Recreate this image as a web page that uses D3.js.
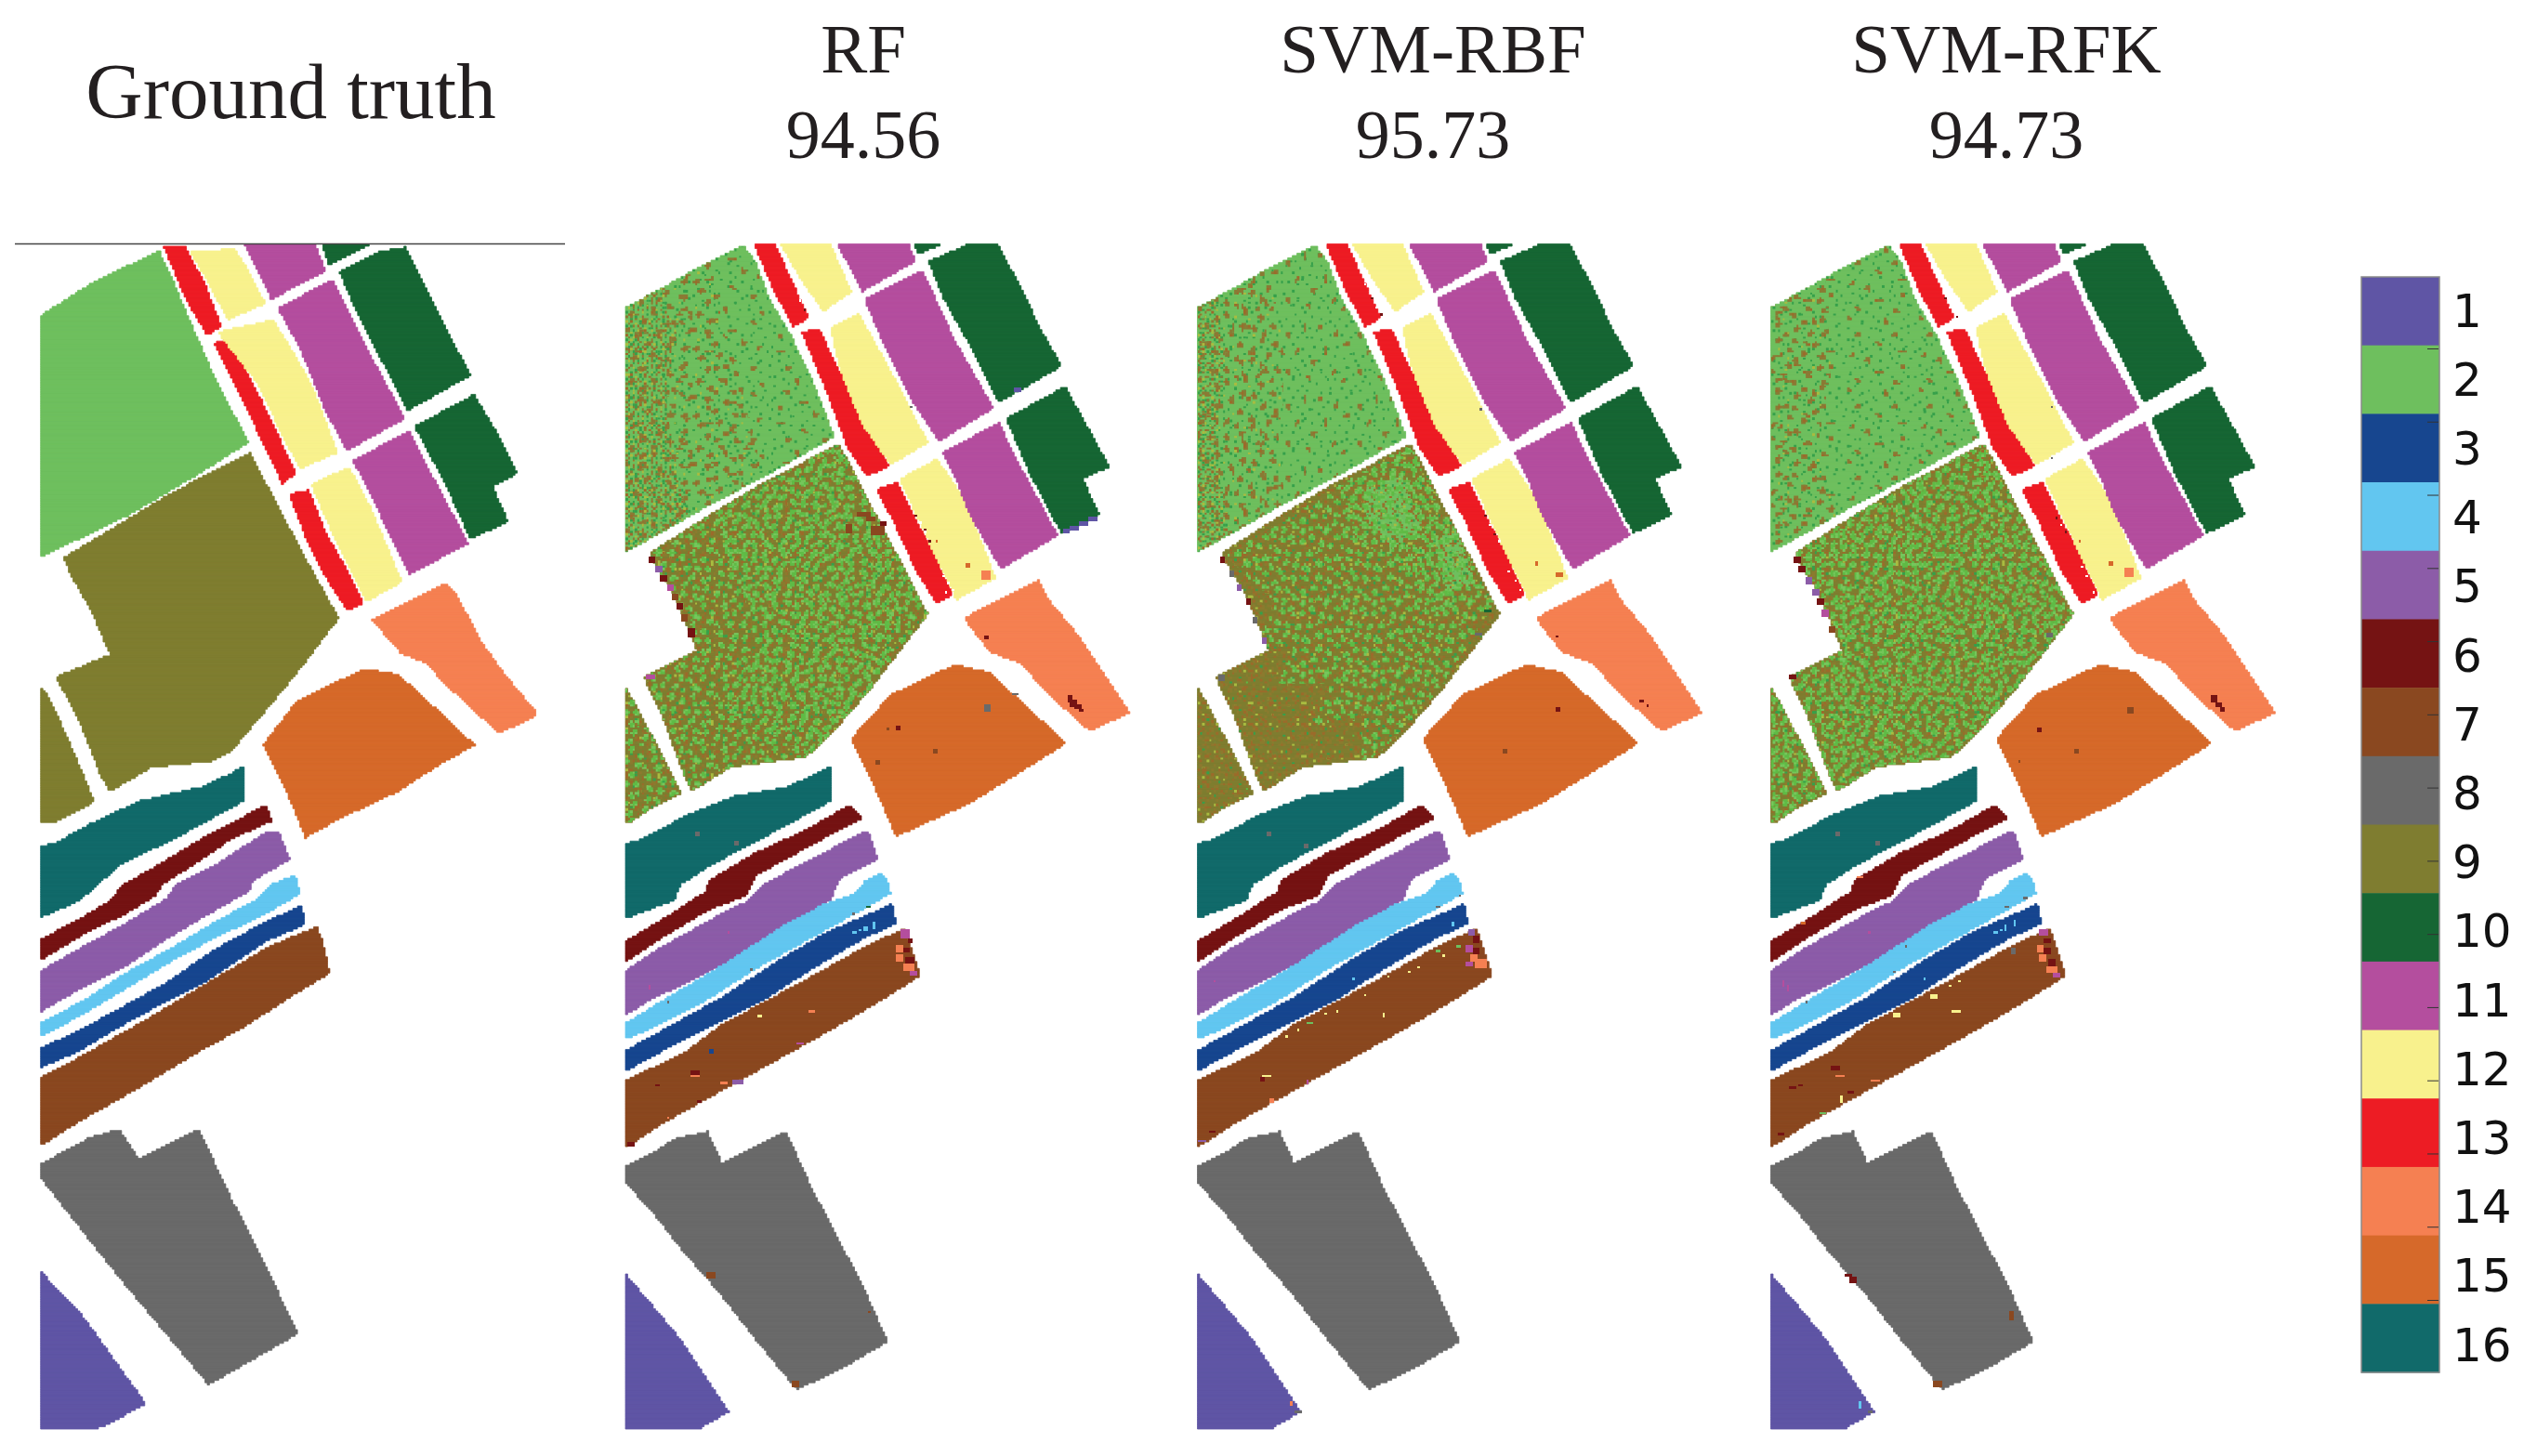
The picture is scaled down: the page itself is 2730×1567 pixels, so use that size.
<!DOCTYPE html>
<html>
<head>
<meta charset="utf-8">
<script src="https://cdn.jsdelivr.net/npm/d3@7.9.0/dist/d3.min.js"></script>
<style>
  html, body { margin: 0; background: #fff; }
  svg { display: block; }
</style>
</head>
<body>
<div id="chart"></div>
<script>
const classIds = [1, 2, 3, 4, 5, 6, 7, 8, 9, 10, 11, 12, 13, 14, 15, 16];
const classColors = ['#ffffff', '#5f55a5', '#6ebf5e', '#17468f', '#62c6f0', '#8c5ca8', '#751313', '#8a4820',
  '#6a6a6a', '#7f7d30', '#166634', '#b44e9e', '#f8f18d', '#ed1c24', '#f58052', '#d6692a', '#116a6a'];
const colorbarTicks = [1, 2, 3, 4, 5, 6, 7, 8, 9, 10, 11, 12, 13, 14];

const panelNames = ['Ground truth', 'RF', 'SVM-RBF', 'SVM-RFK'];
const panelScores = [null, '94.56', '95.73', '94.73'];

// fields as [class, polygon], polygons in image cells [col, row] of the 217 x 512 scene
const truthFields = [
  [2, [[0,31],[4.6,28],[23.5,16],[51.3,3],[56.3,13.6],[64.4,32.8],[74.3,55.4],[89.8,85.9],[67.7,99.8],[38.2,117.2],[17.7,127],[0,135.2]]],
  [13, [[53.3,1.4],[62.5,1.4],[71,17],[78.3,36],[71.8,39.4],[62.8,24]]],
  [13, [[75,42.7],[82.4,40.2],[87.4,52],[95.6,67.6],[110.3,99],[104.6,103.8],[95.6,85],[84,60.6]]],
  [13, [[107.4,108],[116,106.3],[123.4,125],[132.5,140.8],[139.5,155.2],[132.5,158.5],[123.4,144.3],[115.2,128.6]]],
  [12, [[64.4,3],[84,2.3],[88.1,8.4],[97.2,25.8],[80.8,32.8],[72.6,17]]],
  [12, [[76.4,38],[100.5,32.8],[110.3,48.4],[118.5,64],[128.4,90.2],[112,97.2],[103.8,81.5],[94,60.6]]],
  [12, [[116.9,104],[133.3,96.3],[142.3,113],[156.2,146],[140.7,154.7],[128.4,130.3]]],
  [11, [[88.2,0],[118.5,0],[123.4,11.8],[99.7,24],[94,11.8]]],
  [11, [[102.6,27.9],[126,15.3],[139.9,43.2],[157.5,75.4],[132.5,89.4],[123.4,72.8],[112,44.9]]],
  [11, [[134.6,93.7],[159.5,80.7],[167.7,97.2],[184.9,129.4],[159.5,142.9],[149.7,123.3],[139.9,102.4]]],
  [10, [[121.8,0],[143.1,0],[124.3,9.2]]],
  [10, [[128.9,11.8],[147.2,3.1],[157.9,1.4],[164.4,15.3],[173.4,32.8],[185.8,56.8],[158.7,72],[146.4,48.4],[135.7,27.5]]],
  [10, [[161.6,78.9],[187.4,65],[197.2,81.5],[206.2,99],[195.5,105],[202.1,119.9],[185.8,127.7],[174.3,102.4]]],
  [9, [[10,135.5],[56.2,107.7],[90.7,90.2],[100.5,109.4],[115.3,137.3],[128.9,161.7],[110.3,186],[94,205.5],[82.4,219.2],[74.3,223.5],[48,226.2],[30,236.7],[25.9,229.6],[17.7,208.7],[6.7,187],[30,177.4],[21.8,158.2],[13.6,144.2]]],
  [9, [[0,192],[3,194.7],[12,214],[23.4,241],[6.2,250],[0,250]]],
  [14, [[143.1,162.5],[175,146.3],[180,152],[190.7,172.2],[202.1,187.8],[214.9,203],[210.4,206],[198,211.3],[187.4,201.7],[176,191.2],[166,180.8],[156.2,177.3]]],
  [15, [[96,216.5],[110.3,198],[139.8,183.4],[154.6,186],[164.4,194.8],[187.7,216.5],[170.8,226],[154.6,236.6],[130,248],[114.4,256.6],[107,238.3]]],
  [16, [[0,260],[6.2,259],[21.8,250.3],[43.1,240.5],[69.3,234.6],[82.4,228.7],[88.2,225.3],[88.2,240.5],[59.5,256.2],[34.9,268],[22.6,278.8],[16.9,283.7],[0,291.1]]],
  [6, [[0,300.4],[16.9,291.5],[30,283.7],[35.7,276.8],[51.3,268],[71,256.2],[97.2,242.4],[100.2,249.3],[82.4,257.2],[71,265],[52.9,276.8],[49.7,281.7],[36.6,289.6],[21.8,296.5],[3.8,307.3],[0,309.8]]],
  [5, [[0,314.1],[15.2,305.3],[36.6,293.5],[51.3,284.7],[54.6,282.7],[57.9,277.2],[75.9,268],[97.2,254.2],[103,254.2],[107.9,266],[92.3,274.8],[89.9,279.8],[69.3,291.5],[51.3,302.3],[36.6,312.2],[15.2,323],[0,331.8]]],
  [4, [[0,336.7],[20.2,325.9],[36.6,315.1],[57.9,303.3],[74.3,293.5],[94,282.7],[99.7,276.8],[110,272.5],[112.3,280.7],[98.9,288.6],[74.3,300.4],[56.2,310.2],[36.6,322],[20.2,331.8],[2.1,341.6],[0,342.6]]],
  [3, [[0,347.5],[16.9,339.7],[36.6,328.9],[56.2,318],[74.3,305.3],[94,294.5],[112.8,285.6],[114.4,294.1],[97.2,301.4],[84,310.2],[69.3,320],[51.3,328.9],[33.3,338.7],[15.2,349.5],[0,355.8]]],
  [7, [[0,360.3],[20.2,349.5],[51.3,331.8],[69.3,321],[97.2,304.3],[119.3,294.9],[121.8,300.4],[125,315.1],[107,326],[87.4,338.7],[69.3,348.5],[39.8,366.2],[16.9,379],[0,389.8]]],
  [8, [[0,397.6],[7,393.7],[21.8,385.8],[34.1,382.5],[42.3,395.1],[68.5,382.5],[82.4,412.4],[95.6,437.9],[111.2,470.9],[72.6,492.9],[57.9,475.2],[33.3,445.7],[18.5,427],[7,412.4],[0,403.5]]],
  [1, [[0,443.8],[18.5,463.5],[45.6,501.2],[31.6,508.6],[24.3,512],[0,512]]]
];

const predictedFields = [
  [2, [[0,27.5],[14.7,19.7],[33.2,9.2],[50.9,0.5],[56.2,7.5],[62.4,24],[70.8,38],[79.3,55.4],[90.4,83.3],[60.9,100],[33.2,114.6],[10.1,127.7],[0,132.9]]],
  [13, [[55.5,0],[64.7,0],[71.6,15.3],[79.3,31.9],[72.4,35.9],[64,19.7]]],
  [13, [[76.2,38],[83.9,36.6],[90,50.2],[100.8,69.3],[113.9,96.3],[104.2,100.3],[96.2,88.5],[87,64.1]]],
  [13, [[108.5,105.9],[117.7,102.8],[122.4,113],[131.6,130.3],[141.6,151.2],[134.6,155.6],[125.4,140.8],[116.2,120.7]]],
  [12, [[67,0],[88.5,0],[97.8,20.6],[85.5,29.3],[74.7,13.6]]],
  [12, [[88.5,36.2],[100.8,30.1],[113.1,51.9],[130.8,85.9],[114.7,95.5],[102.4,78],[93.1,55.4]]],
  [12, [[118.5,101.6],[134.6,92.9],[146.2,109.4],[160,144.3],[143.1,153.8],[128.5,123.3]]],
  [11, [[91.6,0],[122.3,0],[125.4,7.5],[102.4,20.6],[97.8,11.8]]],
  [11, [[103.4,24],[128.5,11.5],[142.3,41.5],[159.2,71],[135.4,85.4],[123.9,67.6],[113.1,46.7]]],
  [11, [[136.9,90.2],[161.5,77.2],[168.5,92],[186.9,126],[162.3,140.4],[148.5,116.4],[143.1,102.4]]],
  [10, [[124.7,0],[137,0],[127,4.5]]],
  [10, [[131.1,7.5],[148.5,0],[160.8,0],[170,17],[179.2,36.2],[188.5,52.8],[161.5,68.5],[148.5,43.2],[137.7,24]]],
  [10, [[164.6,75.4],[190,61.5],[199.2,78],[209.2,96.3],[197.7,101.6],[205,117.2],[188.4,125],[174.6,99]]],
  [9, [[10.1,133.8],[34.7,118.1],[59.3,103.3],[92.4,86.4],[102.4,106],[116.2,132],[130.8,160],[120.8,173],[105.4,193],[87,214],[77.8,221.8],[45.5,226.1],[28.6,236.6],[24,226.1],[16.3,205.2],[7.8,186.9],[30.9,175.6],[20.9,151.2]]],
  [9, [[0,191.3],[4,198.3],[13.2,215.7],[24,237.5],[11.7,243.6],[2.5,249.7],[0,250.2]]],
  [14, [[146.2,161.7],[178.4,145.1],[183,153.8],[196.1,169.5],[206.9,186],[218,202.6],[200.7,210.5],[186.9,198.3],[170,180.8],[157.7,176.5]]],
  [15, [[97.4,213.9],[114.7,194.8],[142.3,181.7],[157.7,185.2],[171.5,198.3],[190.7,215.7],[168.5,229.6],[148.5,241.8],[117,256],[105.4,229.6]]],
  [16, [[0,259.1],[7.1,257.2],[25.5,247.3],[47,238.5],[68.5,235],[80.8,229.7],[89.3,225.1],[89.3,240.5],[64,254.2],[37.8,268],[24,276.8],[21,283.7],[0,291.5]]],
  [6, [[0,301.4],[17.8,290.6],[34.7,279.8],[36.3,274.8],[56.3,263],[77.8,253.2],[97,242.4],[102.4,248.3],[87,256.2],[56.3,272.9],[52.4,281.7],[36.3,287.6],[13.2,301.4],[0,310.2]]],
  [5, [[0,314.1],[14.7,304.3],[40.9,289.6],[53.2,283.7],[59.3,276.8],[76.2,268],[102.4,254.2],[105.4,254.2],[109.3,266],[93.1,273.9],[88.5,283.7],[71.6,293.5],[53.2,305.3],[33.2,316.1],[10.1,326.9],[0,333.4]]],
  [4, [[0,336.7],[20.9,324],[40.9,312.2],[70,293.5],[86.9,284.7],[99.3,280.7],[103.9,274.8],[110,271.9],[113.1,273.9],[114.7,280.7],[102.4,287.6],[79.3,300.4],[56.3,313.2],[33.2,327.9],[10.1,339.7],[0,343.6]]],
  [3, [[0,348.5],[17.8,338.7],[40.9,325.9],[68.5,308.2],[87,297.4],[100.8,291.5],[115.4,285.1],[117,293.5],[102.4,300.4],[80.8,313.2],[60.9,325.9],[25.5,343.6],[0,357.4]]],
  [7, [[0,361.3],[25.5,349.5],[40.9,337.7],[77.8,318],[102.4,304.3],[120.8,295.5],[127.7,316.1],[102.4,331.8],[87,340.6],[64,353.4],[40.9,366.2],[17.8,379],[0,390.4]]],
  [8, [[0,398.6],[10.1,393.7],[21,386.8],[35.5,383.3],[41.7,397],[69.3,383.3],[80.8,408.4],[102.4,449.7],[113.4,474.3],[91.6,487],[73.9,494.9],[56.3,473.3],[40.9,453.6],[24,434],[11.7,418.3],[0,405.5]]],
  [1, [[0,444.8],[24,473.3],[44.7,504.7],[32.4,511.6],[29.4,512],[0,512]]]
];

// misclassified cells: [col, row, cols wide, rows high, class] (class 0 = unlabelled)
const rfSpecks = [
  [191,195,2,3,6],[192,197,3,3,6],[194,199,3,2,6],[196,201,2,1,6],[155,169,2,2,6],
  [155,199,3,3,8],[117,208,2,2,6],[113,209,1,1,7],[133,218,2,2,7],[108,223,2,2,7],[167,194,3,1,8],
  [154,141,4,4,14],[147,138,2,2,15],[134,128,1,1,15],[123,70,1,1,8],[129,123,1,2,6],
  [30,254,2,2,8],[47,258,2,2,8],
  [98,297,2,1,4],[101,296,1,1,4],[103,295,2,2,4],[107,293,1,3,4],
  [54,313,1,1,8],[18,327,1,1,8],[104,286,2,1,10],[98,289,1,1,8],[10,320,1,2,11],[44,297,1,1,11],
  [119,296,4,4,11],[122,300,2,2,6],[117,303,3,3,14],[120,304,3,2,6],[117,307,3,3,14],[121,308,4,3,6],[120,311,5,3,14],[123,314,3,2,11],
  [79,331,3,1,14],[57,333,2,1,12],[36,348,2,2,3],[28,357,4,2,6],[28,359,4,1,14],[46,361,5,2,5],[41,362,3,1,14],[74,345,3,1,11],
  [13,363,2,1,6],[31,370,2,1,6],[1,388,3,2,6],[18,377,1,1,14],
  [35,444,4,3,7],[72,491,3,3,7],[105,461,1,1,7],
  [189,123,3,2,1],[192,122,4,2,1],[196,120,4,2,1],[200,118,4,2,1],[168,62,3,2,1],
  [125,117,1,1,6],[127,120,1,1,0],[129,124,1,1,0],[131,128,1,1,6],[137,143,1,1,0],[139,146,1,1,0],[141,149,1,1,0],[138,150,1,1,0],
  [75,24,1,1,0],[77,28,1,1,6],[79,31,1,1,0],
  [10,135,3,3,6],[13,139,3,3,5],[15,143,3,3,6],[18,147,3,3,11],[20,151,3,3,7],[22,155,3,3,6],[24,160,3,3,7],[27,166,3,4,6],[9,186,4,2,11],
  [100,116,6,2,7],[104,118,4,2,7],[95,121,3,4,7],[106,122,6,4,7],[110,120,3,2,6]
];
const rbfSpecks = [
  [117,296,3,3,5],[119,299,3,3,6],[116,303,3,3,11],[119,304,3,3,6],[118,307,3,3,14],[120,309,5,4,14],[116,310,3,2,11],
  [38,342,1,1,12],[43,339,1,1,12],[47,336,3,1,2],[55,332,1,1,12],[60,331,1,1,12],[72,324,1,1,12],[82,316,1,1,12],[91,314,1,1,12],[95,312,1,1,12],
  [103,305,2,1,2],[106,307,1,1,12],[112,303,2,1,2],[80,332,1,2,12],[27,360,2,2,6],[28,359,4,1,12],[47,361,1,2,11],[31,369,2,2,14],[5,383,3,1,6],[0,387,4,1,5],
  [110,293,1,2,4],[67,317,1,1,4],[113,281,1,1,8],[103,286,2,1,8],[30,254,2,2,8],[46,259,2,2,8],[7,318,1,1,11],
  [155,200,2,2,6],[132,218,2,2,7],[155,169,1,1,6],[191,197,2,1,6],[194,199,1,1,6],
  [146,137,1,2,15],[155,142,3,2,15],[122,71,1,1,8],
  [124,117,1,1,6],[126,121,1,1,0],[128,125,1,1,6],[130,128,1,1,0],[134,141,1,1,0],[137,145,1,1,0],[139,149,1,1,0],[141,152,1,1,0],
  [72,17,1,1,0],[75,23,1,1,6],[77,27,1,1,0],[79,30,1,1,6],
  [40,500,1,2,14],[42,504,3,1,8],
  [10,135,2,3,6],[14,141,2,3,8],[17,147,2,3,5],[21,153,2,3,6],[24,161,2,3,8],[28,170,2,3,5],[9,186,3,3,8],[124,158,3,1,10],[120,168,3,1,8]
];
const rfkSpecks = [
  [96,297,2,1,4],[99,296,1,1,4],[101,294,1,3,4],[105,292,1,3,4],
  [116,296,4,3,11],[118,300,3,2,6],[115,303,3,3,14],[118,304,3,3,6],[116,307,3,3,14],[120,309,3,3,6],[119,312,5,3,14],[122,315,3,2,11],
  [104,304,2,3,8],[69,324,3,2,12],[53,332,3,2,12],[78,331,4,1,12],[81,318,1,1,12],[77,320,1,1,12],[26,355,4,2,6],[28,359,4,1,14],[8,364,3,1,6],[12,363,2,1,6],
  [43,361,4,1,14],[30,368,1,3,12],[21,375,3,1,2],[3,384,3,1,6],[33,366,3,1,6],
  [5,318,1,3,11],[7,320,1,3,11],[42,297,1,1,11],[28,254,2,2,8],[45,258,2,2,8],[13,293,2,1,15],[37,273,3,1,14],
  [58,303,1,1,8],[15,327,1,1,8],[53,314,1,1,8],[109,282,2,1,8],[101,286,2,1,8],[66,317,1,1,4],
  [34,446,3,3,6],[32,445,3,1,6],[103,461,2,4,7],[70,491,4,3,7],[38,500,1,3,4],[42,504,2,1,8],
  [153,140,4,4,14],[146,137,2,2,15],[133,128,1,1,15],[121,70,1,1,8],[121,92,1,1,8],
  [123,118,1,1,6],[125,121,1,1,0],[127,124,1,1,6],[134,139,1,1,0],[136,143,1,1,0],[139,150,1,1,0],[75,23,1,1,6],[77,27,1,1,0],[80,31,1,1,6],
  [190,195,3,3,6],[192,198,3,2,6],[194,200,2,2,6],[154,200,3,3,7],[115,209,2,2,6],[131,218,2,2,7],[107,223,1,1,7],
  [10,135,3,3,6],[12,139,3,3,6],[15,144,3,3,5],[18,149,3,3,5],[20,153,3,3,6],[22,158,3,3,11],[25,165,3,3,7],[8,186,3,2,6],[119,168,3,2,8]
];

// speckle texture of the two confused fields, typed cell by cell; periods 23, 29 and 31 so that layers do not line up
const speckColors = { g: '#5fbb45', l: '#76c65c', d: '#35a04a', r: '#9c6a2a', m: '#8c7a2e', y: '#a9bc40', b: '#8a7a34' };
const grapeGrain = [
  '....d..........d.......',
  '..........d............',
  '.d...............d.....',
  '.......d...............',
  '............d.......d..',
  '...d...................',
  '................d......',
  '.........d.............',
  '.....................d.',
  '..d.........d..........',
  '.......................',
  '......d.........d......',
  '......................d',
  '...........d...........',
  '.d.....................',
  '.........d........d....',
  '....d..................',
  '..............d........',
  '.....................d.',
  '........d..............',
  '..d..........d.........',
  '.................d.....',
  '......d................'
];
const grapeBlobs = [
  '...............................',
  '......bbr...............d......',
  '.......bb..............bb......',
  '........................br.....',
  '..d............................',
  '...........................d...',
  '.............bbbr..............',
  '..............d................',
  '....rb.................d.......',
  '....bb.........................',
  '...................b...........',
  '...................rbb.........',
  '.........d.........bb..........',
  '..........................bb...',
  '..........................r....',
  '...bbrb........................',
  '....d.........d................',
  '...............................',
  '..............rb.......d.......',
  '...............bb..............',
  '..........................d....',
  '.......d.......................',
  '.......rbb.............bbb.....',
  '.......bb..............br......',
  '...............................',
  '................d..............',
  '..d............................',
  '...........bb..................',
  '...........br.........d........',
  '............b..............rb..',
  '............................b..'
];
const grapeBrown = [
  '..bb.......rbb.........b.....',
  '.brbb.......bb........brb....',
  '..b........................bb',
  '.......bb.......d.....y.....b',
  '......brb.y.........bb.......',
  '.......b........bbr.rbb......',
  '...y.............bb..b...d...',
  'bb.........d................b',
  'rb...bbb.............y.....br',
  '.....brbb.....bb..........bb.',
  '......b......brb.............',
  '..............bb...bbr.......',
  '..y.d...............bb...y...',
  '.........bb....y.............',
  '........bbr..........d.......',
  '.bb......b.......rbb.....bb..',
  'brb...............bb....brb..',
  '.b.....y......d..........b...',
  '.......d...bb................',
  '...bb.....rbb........y.......',
  '..brbb.....b.....bb......d...',
  '...b............brb..........',
  '........y........b.......bb..',
  '.............bbb........bbr..',
  '......bb.....brb.........b...',
  '.....bbr...............y.....',
  '......b..d........bb.........',
  '.y..............d.brb.....b..',
  '........................brb..'
];
const grapeCrowd = [
  '.b.d..r.y..b.d...b.r.y.',
  'r..b.....d.r...y.b..d.b',
  '.d...y.b...b.r...d....r',
  'b..r...d.y...d.b...y.b.',
  '.y.b.d...r.b.....d.r..d',
  '.....r.b.d...y.b...b...',
  'd.b....y...r.d...r.d.y.',
  '.r.y.b...d.b.b.y...b..b',
  'b...d..r.....d..b.r..d.',
  '..d.b.y..b.y..r....y.r.',
  'y.r...d.r..d.b..d.b...b',
  '.b..y...b.r....y...r.d.',
  'd..b.r.d...b.d.b.d....y',
  '.r....b.y.d..r...y.b.r.',
  'b..d.y..r..y...b.r.d...',
  '..y.b..d.b..d.b...d..b.',
  'r.d...r...b.r..y.b..y.d',
  '.b.y.b.d.y..d.r..d.r...',
  'd....r...d.b...b...b.b.',
  '.r.d..b.y..r.d.y.d...d.',
  'y..b.d...b..y...r.b.y.r',
  '.d...r.b.d.b.b.d...r..b',
  'b.y.b...r...r...y.d..d.'
];
const fallowGrain = [
  'r...m.....r.m.y..r.....',
  '..m..g.r.......m...r...',
  'y........m.d.r....m..y.',
  '.m.....r...m........r.m',
  'r..d...m.y.....m.d.....',
  '....r.....r.......m..r.',
  'm.....y.m....r.y.......',
  '.r.....r....d..m......r',
  '...m.d...m.......r.d.m.',
  '..r......r..y..m.......',
  'm.....m.....m.r....m..r',
  '.y.r.......r....m....m.',
  '...m...r.....d.y.r.....',
  '..d....m.r...m.....y..m',
  'y...r.....m.r..r.......',
  '.r....m.d...y.m...m....',
  'm....r...r......r...m.r',
  '..m....y.....r.m.......',
  'r...r.m...m.....y..m.d.',
  '...m.....r..m.r....r..m',
  'y.r......m.d.......y.r.',
  '.m..d.m....r.m..r.m....',
  'r...r.....m...y.....r..'
];
const fallowBlobs = [
  '..gg.......ll.....gd....l......',
  '.ggl......lgg....lgg...gg..g...',
  '..g........gl.....g....gl.ggl..',
  '.....dg.........l...........l..',
  '.....gll....gg.gg....ll.......g',
  'g.....g....ggl.gl...lgl.....ggl',
  'lg.........lg........g..dl...gl',
  'g...gll.......d.........gg.....',
  '....lgg.g....lgg...gl........l.',
  '.....g.ll...ggll..lggg......lg.',
  '.........l...lg....gl...gg...g.',
  '..gl...........g.......glg.....',
  '.lggd....gg...........d.lg...gg',
  '..lg....lgl.....ll...........gl',
  '.........gg.d..lgg..gl.....d...',
  'g...g.........lgdg.lgg...glg..g',
  'lg.ggl.........gl...g....lgg..l',
  'g...lg...ll.........d.....g....',
  '.........lgg..gg.............l.',
  '.....g....gl.lggl...ll..d...gg.',
  '..l.ll........gl...lggl....lgl.',
  '.lgg.g...d.........gg......g...',
  '..gl.....gg..l...........gl....',
  '........lgg.lgg.....g...lgg...g',
  'g..gg....g...gl..d.lgg...g...lg',
  'l.lgl............gg.lg.......g.',
  '...g....ll.d....lgg.....gl.....',
  '.......lgg.gl....g....l.lgg..gl',
  '.gl.....g..lg........lg..g...lg',
  'lgg............gl.....gl......g',
  '.g....gl...g..lgg...........l..'
];
const fallowGreen = [
  '.......gl.........ggl.....d..',
  '..g...lgg....g.....gl........',
  '.lgl...g....lgg.........gl...',
  '..g.........gl...l.....lgg...',
  '.......d.........lg.....g....',
  '.....ggl...g..........l.....g',
  '....lgg...lgl....dg..lgl...lg',
  '.....g.....g.....gl...g.....g',
  'l.........................g..',
  'gl...gl.....ll.......gl..lgl.',
  '.....lgg...lgg..g...lgg...g..',
  '......g.....g..lgl...g.......',
  '..l.............g.........l..',
  '.lg.....dl.............g.lgg.',
  '..g..g..gg...gl.......lg..g..',
  '....lgl......lgg...l..g......',
  '.....g........g...lgg......l.',
  '..........g.......gl......lg.',
  '.gl......lgl..........gg..g..',
  'lgg.......g.....d....lgl.....',
  '.g....l.........gl....g...g..',
  '.....lg...gl...lgg.......lgl.',
  '......g..lgg....g..l.....g...',
  '..g.......g.......lg.........',
  '.lgl...........g...g...gl....',
  '..g.....gg....lgl.....lgg...g',
  '.......lgl.....g.......g...lg',
  '...l....g............d.......',
  '..lg...........gl........l...'
];
const fallowRust = [
  '..r........mm......r.........',
  '.rm.......mrm.....mr....m....',
  '..........m.............rm...',
  '.....mr............m.........',
  '.....rm......r....rmm........',
  '...........mrr.....m.......r.',
  '.m...........m...........rm..',
  'rm.......r..................m',
  '.m......rm.......rr........mr',
  '.........m.....m.mr..m.......',
  '....mr........rm.....rm......',
  '....rrm........m......m...r..',
  '.....m....m..............mr..',
  '.........rm......m........m..',
  '.r.......m.......rm..........',
  'mrm...............m....mr....',
  '.m.......mr...........rm.....',
  '.....r...rm.....r............',
  '....rm.........rmm.......m...',
  '.....m.............r....rm...',
  '..mr.........m....rm.....m...',
  '..m.........mr.....m.........',
  '......mm.....m............rm.',
  '.......r...................m.',
  '.r.........r.....mr..........',
  'rm........mrm.....rm....r....',
  '...........m...........mr....',
  '.....m.r..............m......',
  '....mr.....................m.'
];
const speckTiles = { grapeGrain, grapeBlobs, grapeBrown, grapeCrowd, fallowGrain, fallowBlobs, fallowGreen, fallowRust };

// texture layers per predicted map: [field class, tile, polygon or null for the whole field]
const rfZones = [
  [2, 'grapeGrain', null],
  [2, 'grapeBlobs', null],
  [2, 'grapeBrown', [[0,22],[35,3],[42,35],[50,60],[58,95],[45,112],[0,135]]],
  [2, 'grapeCrowd', [[0,24],[15,17],[22,40],[18,70],[22,100],[28,118],[0,135]]],
  [9, 'fallowGrain', null],
  [9, 'fallowRust', null],
  [9, 'fallowBlobs', null],
  [9, 'fallowGreen', [[40,115],[92,86],[125,150],[105,195],[82,222],[40,200],[60,170],[45,140]]]
];
const rbfZones = [
  [2, 'grapeGrain', null],
  [2, 'grapeBlobs', null],
  [2, 'grapeBrown', [[0,22],[30,6],[38,50],[35,90],[38,116],[0,135]]],
  [2, 'grapeCrowd', [[0,24],[8,20],[12,50],[8,90],[14,125],[0,135]]],
  [9, 'fallowGrain', null],
  [9, 'fallowRust', null],
  [9, 'fallowBlobs', [[12,135],[62,104],[92,86],[128,155],[105,192],[84,215],[70,226],[72,205],[50,208],[58,190],[35,190],[42,172],[24,176],[34,155]]],
  [9, 'fallowGreen', [[62,106],[92,88],[122,150],[105,160],[88,138],[70,130]]]
];
const rbfGreenPatches = [
  [[72,106],[88,100],[98,122],[84,132],[74,120]],
  [[102,128],[112,124],[120,146],[108,150]]
];
const rfkZones = [
  [2, 'grapeGrain', null],
  [2, 'grapeBlobs', null],
  [2, 'grapeBrown', [[0,22],[24,12],[26,55],[20,90],[30,120],[0,135]]],
  [9, 'fallowGrain', null],
  [9, 'fallowRust', null],
  [9, 'fallowBlobs', null],
  [9, 'fallowGreen', null]
];

const width = 2730;
const height = 1567;
const cell = 2.49;
const mapTop = 262.5;
const mapBottom = 1538;
const mapLefts = [43.7, 673, 1288.5, 1905.5];
const titleCenters = [313, 929, 1542, 2159];

const svg = d3.select('#chart').append('svg')
  .attr('width', width)
  .attr('height', height)
  .attr('viewBox', `0 0 ${width} ${height}`);

const defs = svg.append('defs');

const yMap = d3.scaleLinear().domain([0, 512]).range([mapTop, mapBottom]);

/* MAP PANELS */
// walk the scene grid so that field edges step by whole cells, as in the image
function cellPath(polygon, xMap) {
  const rows = polygon.map((p) => p[1]);
  const cols = polygon.map((p) => p[0]);
  const rowEnd = Math.min(512, Math.ceil(d3.max(rows)));
  const colEnd = Math.ceil(d3.max(cols));
  let d = '';
  for (let r = Math.floor(d3.min(rows)); r < rowEnd; r++) {
    let start = null;
    for (let c = Math.floor(d3.min(cols)); c <= colEnd; c++) {
      const inside = c < colEnd && d3.polygonContains(polygon, [c + 0.5, r + 0.5]);
      if (inside && start === null) start = c;
      if (!inside && start !== null) {
        d += `M${xMap(start)},${yMap(r)}H${xMap(c)}V${yMap(r + 1)}H${xMap(start)}Z`;
        start = null;
      }
    }
  }
  return d;
}

function drawPanel(index, fields, zones, specks, greenPatches) {
  const left = mapLefts[index];
  const xMap = d3.scaleLinear().domain([0, 217]).range([left, left + 217 * cell]);
  const g = svg.append('g');

  g.selectAll('path.field')
    .data(fields)
    .join('path')
    .attr('class', 'field')
    .attr('d', (d) => cellPath(d[1], xMap))
    .attr('fill', (d) => classColors[d[0]])
    .attr('stroke', (d) => classColors[d[0]])
    .attr('stroke-width', 0.8);

  if (!zones) return;

  Object.entries(speckTiles).forEach(([name, rows]) => {
    const size = rows.length * cell;
    const pattern = defs.append('pattern')
      .attr('id', `${name}-${index}`)
      .attr('patternUnits', 'userSpaceOnUse')
      .attr('width', size)
      .attr('height', size)
      .attr('patternTransform', `translate(${left},${mapTop}) rotate(${(index - 1) * 90})`)
      .attr('shape-rendering', 'crispEdges');
    rows.forEach((row, r) => {
      row.split('').forEach((ch, c) => {
        if (ch === '.') return;
        pattern.append('rect')
          .attr('x', c * cell)
          .attr('y', r * cell)
          .attr('width', cell + 0.05)
          .attr('height', cell + 0.05)
          .attr('fill', speckColors[ch]);
      });
    });
  });

  [2, 9].forEach((fieldClass) => {
    const clipId = `clip-${fieldClass}-${index}`;
    const own = fields.filter((f) => f[0] === fieldClass);
    defs.append('clipPath').attr('id', clipId)
      .selectAll('path')
      .data(own)
      .join('path')
      .attr('d', (d) => cellPath(d[1], xMap));

    const zoneG = g.append('g')
      .attr('clip-path', `url(#${clipId})`)
      .attr('shape-rendering', 'crispEdges');
    if (fieldClass === 9 && greenPatches) {
      zoneG.selectAll('path.patch')
        .data(greenPatches)
        .join('path')
        .attr('class', 'patch')
        .attr('d', (d) => cellPath(d, xMap))
        .attr('fill', classColors[2]);
    }
    zones.filter((z) => z[0] === fieldClass).forEach((z) => {
      (z[2] ? [z[2]] : own.map((f) => f[1])).forEach((poly) => {
        zoneG.append('path')
          .attr('d', cellPath(poly, xMap))
          .attr('fill', `url(#${z[1]}-${index})`);
      });
    });
  });

  g.selectAll('rect.speck')
    .data(specks)
    .join('rect')
    .attr('class', 'speck')
    .attr('shape-rendering', 'crispEdges')
    .attr('x', (d) => xMap(d[0]))
    .attr('y', (d) => yMap(d[1]))
    .attr('width', (d) => xMap(d[0] + d[2]) - xMap(d[0]))
    .attr('height', (d) => yMap(d[1] + d[3]) - yMap(d[1]))
    .attr('fill', (d) => classColors[d[4]]);
}

drawPanel(0, truthFields, null, []);
drawPanel(1, predictedFields, rfZones, rfSpecks);
drawPanel(2, predictedFields, rbfZones, rbfSpecks, rbfGreenPatches);
drawPanel(3, predictedFields, rfkZones, rfkSpecks);

// rule over the ground truth map
svg.append('line')
  .attr('x1', 16).attr('x2', 608)
  .attr('y1', mapTop).attr('y2', mapTop)
  .attr('stroke', '#444')
  .attr('stroke-width', 1.5);

/* TITLES */
const titles = svg.append('g')
  .attr('font-family', '"Liberation Serif", serif')
  .attr('fill', '#231f20')
  .attr('text-anchor', 'middle');

panelNames.forEach((name, i) => {
  const hasScore = panelScores[i] !== null;
  titles.append('text')
    .attr('x', titleCenters[i])
    .attr('y', hasScore ? 78 : 127)
    .attr('font-size', hasScore ? 75 : 85)
    .text(name);
  if (hasScore) {
    titles.append('text')
      .attr('x', titleCenters[i])
      .attr('y', 170)
      .attr('font-size', 74)
      .text(panelScores[i]);
  }
});

/* COLORBAR */
const barLeft = 2541;
const barRight = 2625;
const barTop = 298;
const barBottom = 1477;

const bandScale = d3.scaleBand().domain(classIds).range([barTop, barBottom]);

svg.append('g')
  .selectAll('rect')
  .data(classIds)
  .join('rect')
  .attr('x', barLeft)
  .attr('y', (d) => bandScale(d))
  .attr('width', barRight - barLeft)
  .attr('height', bandScale.bandwidth() + 0.5)
  .attr('fill', (d) => classColors[d]);

svg.append('rect')
  .attr('x', barLeft).attr('y', barTop)
  .attr('width', barRight - barLeft)
  .attr('height', barBottom - barTop)
  .attr('fill', 'none')
  .attr('stroke', '#8a8a8a')
  .attr('stroke-width', 1.5);

const tickScale = d3.scaleLinear().domain([1, 14]).range([375, 1399]);
const tickAxis = svg.append('g')
  .attr('transform', `translate(${barRight - 1},0)`)
  .call(d3.axisLeft(tickScale).tickValues(colorbarTicks).tickSize(12).tickFormat(''));
tickAxis.select('.domain').remove();
tickAxis.selectAll('line').attr('stroke', '#333').attr('stroke-width', 1);

const labelScale = d3.scalePoint().domain(classIds).range([335, 1448]);
const labelAxis = svg.append('g')
  .attr('transform', `translate(${barRight},0)`)
  .call(d3.axisRight(labelScale).tickSize(0).tickPadding(14));
labelAxis.select('.domain').remove();
labelAxis.selectAll('text')
  .attr('font-family', '"DejaVu Sans", sans-serif')
  .attr('font-size', 50)
  .attr('fill', '#111');
</script>
</body>
</html>
